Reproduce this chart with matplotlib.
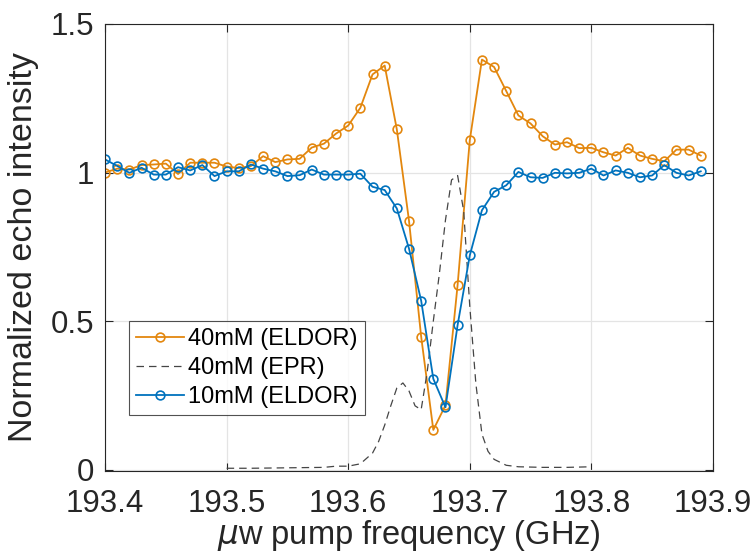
import matplotlib
matplotlib.use("Agg")
import matplotlib.pyplot as plt

# pump frequencies (GHz) for the ELDOR sweeps
freq = [193.40 + 0.01 * i for i in range(50)]

eldor_40mM = [1.000, 1.013, 1.010, 1.025, 1.027, 1.030, 0.995, 1.033, 1.033, 1.033,
              1.020, 1.015, 1.022, 1.055, 1.035, 1.044, 1.046, 1.084, 1.097, 1.131,
              1.158, 1.218, 1.330, 1.360, 1.145, 0.838, 0.448, 0.134, 0.217, 0.622,
              1.109, 1.380, 1.355, 1.274, 1.192, 1.165, 1.122, 1.094, 1.102, 1.082,
              1.083, 1.068, 1.057, 1.083, 1.057, 1.046, 1.038, 1.077, 1.077, 1.057]

eldor_10mM = [1.044, 1.022, 0.999, 1.016, 0.993, 0.993, 1.018, 1.007, 1.025, 0.988,
              1.004, 1.004, 1.027, 1.013, 1.004, 0.988, 0.991, 1.010, 0.993, 0.993,
              0.993, 0.996, 0.952, 0.941, 0.879, 0.744, 0.569, 0.306, 0.210, 0.487,
              0.721, 0.873, 0.935, 0.957, 1.002, 0.984, 0.982, 0.999, 0.997, 0.999,
              1.013, 0.990, 1.007, 0.999, 0.984, 0.990, 1.025, 0.999, 0.990, 1.004]

# EPR spectrum (40mM)
epr_freq = [193.50, 193.52, 193.54, 193.56, 193.58, 193.59, 193.60, 193.61, 193.62,
            193.625, 193.63, 193.635, 193.64, 193.645, 193.65, 193.655, 193.66,
            193.665, 193.67, 193.675, 193.68, 193.685, 193.69, 193.695, 193.70,
            193.705, 193.71, 193.715, 193.72, 193.73, 193.74, 193.76, 193.78, 193.80]
epr = [0.005, 0.005, 0.006, 0.007, 0.008, 0.012, 0.012, 0.020, 0.056,
       0.095, 0.150, 0.215, 0.275, 0.292, 0.265, 0.215, 0.202,
       0.330, 0.500, 0.660, 0.840, 0.975, 0.990, 0.870, 0.550,
       0.290, 0.120, 0.062, 0.035, 0.015, 0.010, 0.008, 0.008, 0.010]

xticks = [193.4, 193.5, 193.6, 193.7, 193.8, 193.9]
yticks = [0, 0.5, 1, 1.5]
ytick_labels = ["0", "0.5", "1", "1.5"]

plt.rcParams["font.family"] = ["Liberation Sans", "DejaVu Sans"]

fig = plt.figure(figsize=(7.56, 5.56), dpi=100)
ax = fig.add_axes([0.139, 0.153, 0.804, 0.804])

orange = "#e3870e"
blue = "#0072bd"

ax.plot(freq, eldor_40mM, color=orange, lw=1.3, marker="o", ms=6.3,
        mfc="none", mew=1.2, label="40mM (ELDOR)")
ax.plot(epr_freq, epr, color="#454545", lw=0.9, ls=(0, (6, 4)),
        label="40mM (EPR)")
ax.plot(freq, eldor_10mM, color=blue, lw=1.3, marker="o", ms=6.3,
        mfc="none", mew=1.2, label="10mM (ELDOR)")

ax.set_xlim(193.4, 193.9)
ax.set_ylim(-0.004, 1.5)
ax.set_xticks(xticks)
ax.set_xticklabels([f"{t:.1f}" for t in xticks])
ax.set_yticks(yticks)
ax.set_yticklabels(ytick_labels)

ax.grid(True, color="#e4e4e4", lw=0.9)
ax.set_axisbelow(True)
ax.tick_params(direction="in", length=6, width=0.8, top=True, right=True,
               labelsize=22.5, colors="#262626")
ax.tick_params(axis="x", pad=13)
ax.tick_params(axis="y", pad=8)
for sp in ax.spines.values():
    sp.set_color("#262626")
    sp.set_linewidth(0.8)

ax.set_xlabel(r"$\mu$w pump frequency (GHz)", fontsize=23.5, color="#262626",
              labelpad=-1)
ax.set_ylabel("Normalized echo intensity", fontsize=24.5, color="#262626",
              labelpad=8)

leg = ax.legend(loc="lower left", bbox_to_anchor=(0.04, 0.125), fontsize=17,
                frameon=True, fancybox=False, edgecolor="#262626",
                handlelength=2.0, handletextpad=0.2, borderpad=0.3,
                labelspacing=0.3, borderaxespad=0)
leg.get_frame().set_linewidth(0.8)

fig.savefig("out.png", dpi=100)
